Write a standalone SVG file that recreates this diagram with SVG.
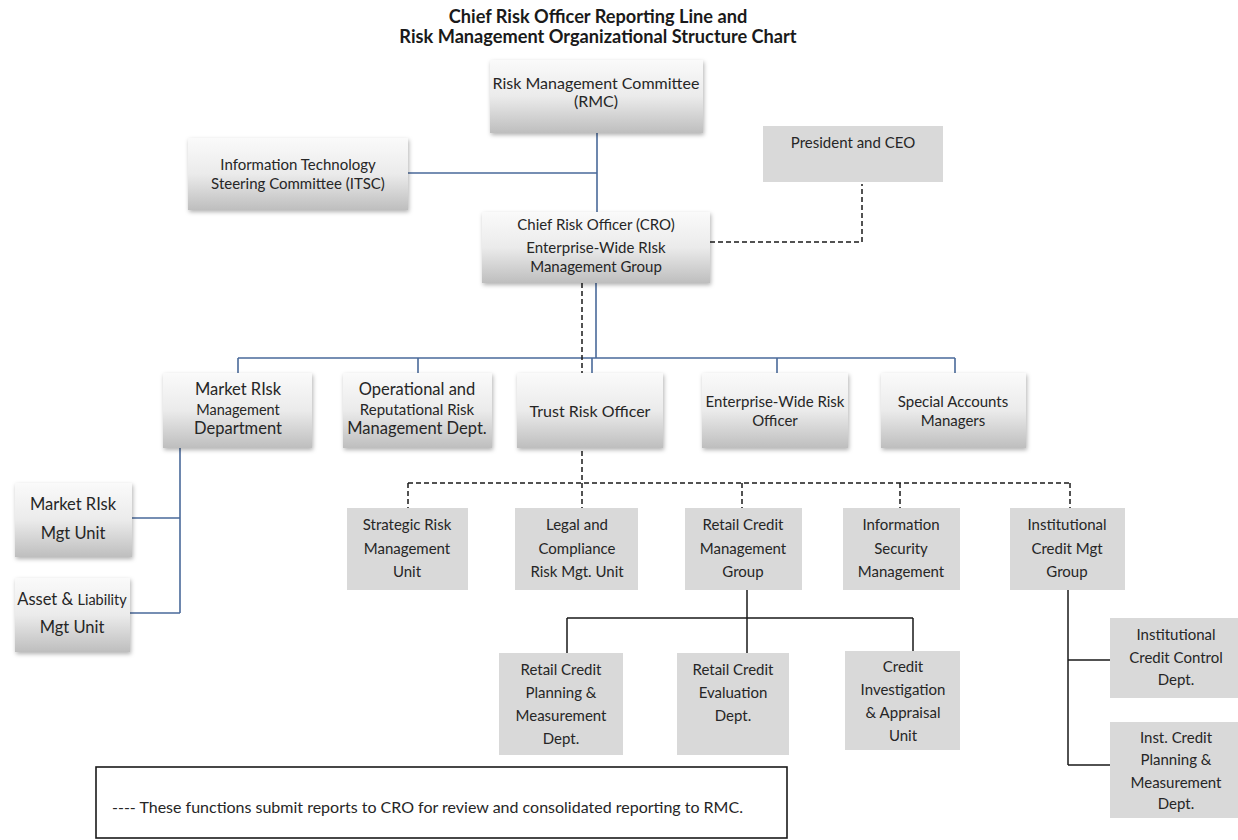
<svg xmlns="http://www.w3.org/2000/svg" width="1238" height="840" viewBox="0 0 1238 840">
<style>
  text { font-family: Lato, "Liberation Sans", sans-serif; fill: #262626; text-anchor: middle; }
  .t { font-size: 15px; }
  .m { font-size: 16px; }
  .big { font-size: 16.5px; }
  .sm { font-size: 14.5px; }
  .title { font-size: 18.2px; font-weight: bold; fill: #1a1a1a; }
  .g { fill: url(#grad); filter: url(#sh); }
  .f { fill: #d9d9d9; }
  .blue { stroke: #4a6a9a; stroke-width: 1.6; fill: none; }
  .blk { stroke: #1a1a1a; stroke-width: 1.5; fill: none; }
  .dash { stroke: #1a1a1a; stroke-width: 1.5; fill: none; stroke-dasharray: 5 3; }
</style>
<defs>
  <linearGradient id="grad" x1="0" y1="0" x2="0" y2="1">
    <stop offset="0" stop-color="#fafafa"/>
    <stop offset="0.5" stop-color="#ebebeb"/>
    <stop offset="1" stop-color="#bebebe"/>
  </linearGradient>
  <filter id="sh" x="-10%" y="-10%" width="125%" height="130%">
    <feDropShadow dx="1" dy="2" stdDeviation="2" flood-color="#000" flood-opacity="0.3"/>
  </filter>
</defs>
<rect width="1238" height="840" fill="#ffffff"/>

<g id="title">
  <text class="title" x="598" y="23">Chief Risk Officer Reporting Line and</text>
  <text class="title" x="598" y="43">Risk Management Organizational Structure Chart</text>
</g>

<g id="connectors">
  <path class="blue" d="M597 133 V212 M408 173 H597"/>
  <path class="blue" d="M596 283 V358 M238 358 H955 M238 358 V373 M418 358 V373 M592 358 V373 M777 358 V373 M955 358 V373"/>
  <path class="blue" d="M180 448 V613 M132 518 H180 M130 613 H180"/>
  <path class="dash" d="M710 242 H862 V184"/>
  <path class="dash" d="M582 283 V483 M408 483 H1070 M408 483 V508 M582 483 V508 M742 483 V508 M900 483 V508 M1070 483 V508"/>
  <path class="blk" d="M747 590 V618 M567 618 H913 M567 618 V653 M747 618 V653 M913 618 V651"/>
  <path class="blk" d="M1068 590 V765 M1068 660 H1110 M1068 765 H1110"/>
</g>

<g id="rmc">
  <rect class="g" x="490" y="60" width="213" height="73"/>
  <text class="m" x="596" y="89">Risk Management Committee</text>
  <text class="m" x="596" y="107">(RMC)</text>
</g>
<g id="itsc">
  <rect class="g" x="188" y="138" width="220" height="72"/>
  <text class="t" x="298" y="170">Information Technology</text>
  <text class="t" x="298" y="189">Steering Committee (ITSC)</text>
</g>
<g id="ceo">
  <rect class="f" x="763" y="126" width="180" height="56"/>
  <text class="t" x="853" y="148">President and CEO</text>
</g>
<g id="cro">
  <rect class="g" x="482" y="212" width="228" height="71"/>
  <text class="t" x="596" y="230">Chief Risk Officer (CRO)</text>
  <text class="t" x="596" y="253">Enterprise-Wide RIsk</text>
  <text class="t" x="596" y="272">Management Group</text>
</g>

<g id="market-risk-dept">
  <rect class="g" x="163" y="373" width="149" height="75"/>
  <text class="big" x="238" y="395">Market RIsk</text>
  <text class="sm" x="238" y="415">Management</text>
  <text class="big" x="238" y="434">Department</text>
</g>
<g id="ops-risk-dept">
  <rect class="g" x="343" y="373" width="149" height="75"/>
  <text class="big" x="417" y="395">Operational and</text>
  <text class="t" x="417" y="415">Reputational Risk</text>
  <text class="big" x="417" y="434">Management Dept.</text>
</g>
<g id="trust-risk-officer">
  <rect class="g" x="517" y="373" width="146" height="75"/>
  <text class="m" x="590" y="417">Trust Risk Officer</text>
</g>
<g id="ew-risk-officer">
  <rect class="g" x="702" y="373" width="146" height="75"/>
  <text class="t" x="775" y="407">Enterprise-Wide Risk</text>
  <text class="t" x="775" y="426">Officer</text>
</g>
<g id="special-accounts">
  <rect class="g" x="881" y="373" width="145" height="75"/>
  <text class="t" x="953" y="407">Special Accounts</text>
  <text class="t" x="953" y="426">Managers</text>
</g>

<g id="market-risk-unit">
  <rect class="g" x="15" y="483" width="117" height="74"/>
  <text class="big" x="73" y="510">Market RIsk</text>
  <text class="big" x="73" y="539">Mgt Unit</text>
</g>
<g id="alm-unit">
  <rect class="g" x="15" y="578" width="115" height="74"/>
  <text x="72" y="605"><tspan class="big">Asset &amp; </tspan><tspan class="sm">Liability</tspan></text>
  <text class="big" x="72" y="633">Mgt Unit</text>
</g>

<g id="strategic-risk">
  <rect class="f" x="347" y="508" width="121" height="82"/>
  <text class="t" x="407" y="530">Strategic Risk</text>
  <text class="t" x="407" y="554">Management</text>
  <text class="t" x="407" y="577">Unit</text>
</g>
<g id="legal-compliance">
  <rect class="f" x="515" y="508" width="123" height="82"/>
  <text class="t" x="577" y="530">Legal and</text>
  <text class="t" x="577" y="554">Compliance</text>
  <text class="t" x="577" y="577">Risk Mgt. Unit</text>
</g>
<g id="retail-credit-group">
  <rect class="f" x="685" y="508" width="117" height="82"/>
  <text class="t" x="743" y="530">Retail Credit</text>
  <text class="t" x="743" y="554">Management</text>
  <text class="t" x="743" y="577">Group</text>
</g>
<g id="info-security">
  <rect class="f" x="843" y="508" width="117" height="82"/>
  <text class="t" x="901" y="530">Information</text>
  <text class="t" x="901" y="554">Security</text>
  <text class="t" x="901" y="577">Management</text>
</g>
<g id="inst-credit-group">
  <rect class="f" x="1010" y="508" width="115" height="82"/>
  <text class="t" x="1067" y="530">Institutional</text>
  <text class="t" x="1067" y="554">Credit Mgt</text>
  <text class="t" x="1067" y="577">Group</text>
</g>

<g id="retail-planning">
  <rect class="f" x="499" y="653" width="124" height="102"/>
  <text class="t" x="561" y="675">Retail Credit</text>
  <text class="t" x="561" y="698">Planning &amp;</text>
  <text class="t" x="561" y="721">Measurement</text>
  <text class="t" x="561" y="744">Dept.</text>
</g>
<g id="retail-evaluation">
  <rect class="f" x="677" y="653" width="112" height="102"/>
  <text class="t" x="733" y="675">Retail Credit</text>
  <text class="t" x="733" y="698">Evaluation</text>
  <text class="t" x="733" y="721">Dept.</text>
</g>
<g id="credit-investigation">
  <rect class="f" x="845" y="651" width="115" height="99"/>
  <text class="t" x="903" y="672">Credit</text>
  <text class="t" x="903" y="695">Investigation</text>
  <text class="t" x="903" y="718">&amp; Appraisal</text>
  <text class="t" x="903" y="741">Unit</text>
</g>

<g id="inst-credit-control">
  <rect class="f" x="1110" y="618" width="128" height="80"/>
  <text class="t" x="1176" y="640">Institutional</text>
  <text class="t" x="1176" y="663">Credit Control</text>
  <text class="t" x="1176" y="685">Dept.</text>
</g>
<g id="inst-planning">
  <rect class="f" x="1110" y="722" width="128" height="96"/>
  <text class="t" x="1176" y="743">Inst. Credit</text>
  <text class="t" x="1176" y="765">Planning &amp;</text>
  <text class="t" x="1176" y="788">Measurement</text>
  <text class="t" x="1176" y="809">Dept.</text>
</g>

<g id="legend">
  <rect x="96" y="767" width="691" height="71" fill="#ffffff" stroke="#1a1a1a" stroke-width="1.6"/>
  <text class="m" x="112" y="813" style="text-anchor:start">---- These functions submit reports to CRO for review and consolidated reporting to RMC.</text>
</g>
</svg>
